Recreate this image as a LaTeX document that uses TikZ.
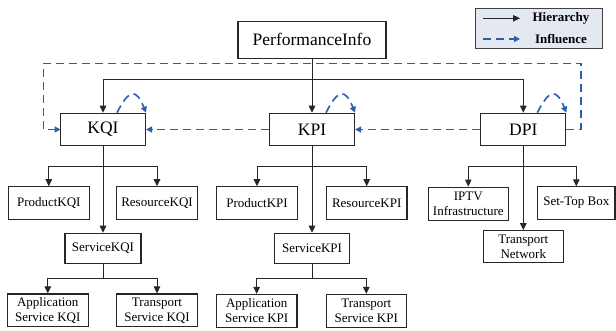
\documentclass[tikz,border=0pt]{standalone}
\usepackage{fontspec}
\setmainfont{Liberation Serif}
\usetikzlibrary{arrows.meta}
\definecolor{influence}{HTML}{2A5FAE}
\definecolor{legendbg}{HTML}{E4E8F0}

\begin{document}
\begin{tikzpicture}[x=1pt,y=1pt,
    bigbox/.style={draw=black!85,line width=1.1pt,inner sep=0pt,minimum width=85pt,minimum height=32.5pt,font=\fontsize{17.5}{20}\selectfont},
    box/.style={draw=black!85,line width=1.1pt,inner sep=0pt,minimum width=80.5pt,minimum height=33pt,align=center,font=\fontsize{13}{15}\selectfont},
    hier/.style={draw=black!85,line width=1pt,-{Triangle[length=7pt,width=6.5pt]}},
    infl/.style={draw=influence,line width=1.6pt,dash pattern=on 8pt off 5pt,-{Triangle[length=6pt,width=6pt]}}]
      \useasboundingbox (0,0) rectangle (616,-331);

      \path
      (312,-39.7) node[bigbox,minimum width=148pt,minimum height=37pt](perf) {PerformanceInfo}
      (103,-129.5) node[bigbox](kqi) {KQI}
      (312,-129.5) node[bigbox](kpi) {KPI}
      (523.3,-129.5) node[bigbox](dpi) {DPI}
      ;

      \path
      (48.8,-203.3) node[box](productkqi) {ProductKQI}
      (157,-203.3) node[box](resourcekqi) {ResourceKQI}
      (103,-248.3) node[box,minimum width=76pt,minimum height=30pt](servkqi) {ServiceKQI}
      (47.8,-310.3) node[box,minimum height=32.7pt](appkqi) {Application\\Service KQI}
      (157,-310.3) node[box,minimum height=32.7pt](trankqi) {Transport\\Service KQI}
      ;

      \path
      (257,-203.3) node[box](productkpi) {ProductKPI}
      (366.7,-203.3) node[box](resourcekpi) {ResourceKPI}
      (312,-248.3) node[box,minimum width=75pt,minimum height=30pt](servkpi) {ServiceKPI}
      (256.7,-310.8) node[box,minimum height=32.7pt](appkpi) {Application\\Service KPI}
      (366.3,-310.8) node[box,minimum height=32.7pt](trankpi) {Transport\\Service KPI}
      ;

      \path
      (468.3,-203.6) node[box,minimum width=80pt](iptv) {IPTV\\Infrastructure}
      (576.3,-203) node[box,minimum width=77.3pt,minimum height=32.3pt](settop) {Set-Top Box}
      (523.3,-246.5) node[box,minimum width=80pt,minimum height=31.6pt](trannet) {Transport\\Network}
      ;

      \coordinate (topsplit) at (312,-80);
      \coordinate (kqisplit) at (103,-166.7);
      \coordinate (kpisplit) at (312,-166.7);
      \coordinate (dpisplit) at (523.3,-166.7);
      \coordinate (servkqisplit) at (103,-278.3);
      \coordinate (servkpisplit) at (312,-278.3);
      \coordinate (loopne) at (581,-63.5);
      \coordinate (loopnw) at (43.5,-63.5);
      \coordinate (kqiin) at (60.5,-129.5);

      \draw[hier] (perf) -- (kpi);
      \draw[hier] (topsplit) -| (kqi);
      \draw[hier] (topsplit) -| (dpi);

      \draw[hier] (kqi) -- (servkqi);
      \draw[hier] (kqisplit) -| (productkqi);
      \draw[hier] (kqisplit) -| (resourcekqi);
      \draw[hier,-] (servkqi) -- (servkqisplit);
      \draw[hier] (servkqisplit) -| (appkqi);
      \draw[hier] (servkqisplit) -| (trankqi);

      \draw[hier] (kpi) -- (servkpi);
      \draw[hier] (kpisplit) -| (productkpi);
      \draw[hier] (kpisplit) -| (resourcekpi);
      \draw[hier,-] (servkpi) -- (servkpisplit);
      \draw[hier] (servkpisplit) -| (appkpi);
      \draw[hier] (servkpisplit) -| (trankpi);

      \draw[hier] (dpi) -- (trannet);
      \draw[hier] (dpisplit) -| (iptv);
      \draw[hier] (dpisplit) -| (settop);

      \draw[infl] (dpi.west) -- (kpi.east);
      \draw[infl] (kpi.west) -- (kqi.east);
      \draw[infl] (dpi.east) -- (dpi.east -| loopne) -- (loopne) -- (loopnw) -- (loopnw |- kqiin) -- (kqiin);
      \draw[infl] ([xshift=14pt]kqi.north) to[out=63,in=112,looseness=2.35] (kqi.north east);
      \draw[infl] ([xshift=14pt]kpi.north) to[out=63,in=112,looseness=2.35] (kpi.north east);
      \draw[infl] ([xshift=14pt]dpi.north) to[out=63,in=112,looseness=2.35] (dpi.north east);

      \node[draw=black!75,line width=1.1pt,fill=legendbg,inner sep=0pt,minimum width=127pt,minimum height=40.4pt](legend) at (538.8,-28.5) {};
      \coordinate (hiera) at (483,-18.3);
      \coordinate (hierb) at (520,-18.3);
      \coordinate (infla) at (483,-39);
      \coordinate (inflb) at (520,-39);
      \draw[hier] (hiera) -- (hierb);
      \draw[infl] (infla) -- (inflb);
      \node[font=\bfseries\fontsize{13}{15}\selectfont](hierlabel) at (561,-18.3) {Hierarchy};
      \node[font=\bfseries\fontsize{13}{15}\selectfont](infllabel) at (561,-39) {Influence};
    \end{tikzpicture}
\end{document}
